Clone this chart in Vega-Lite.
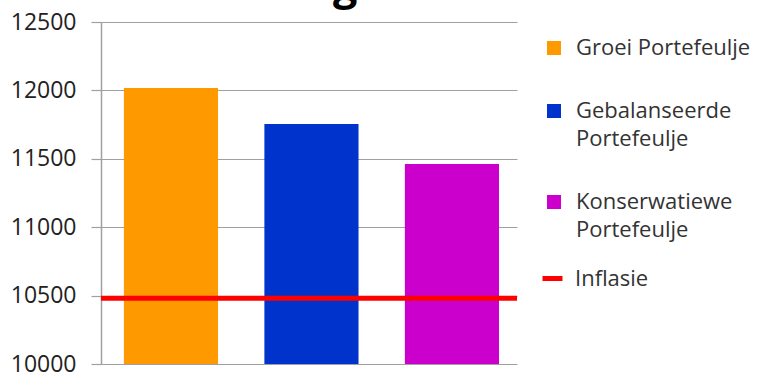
{
  "$schema": "https://vega.github.io/schema/vega-lite/v6.json",
  "width": 416,
  "height": 342,
  "autosize": {"type": "none"},
  "padding": {"left": 101, "top": 22, "right": 243, "bottom": 10},
  "title": {
    "text": "12 Maande groei",
    "anchor": "start",
    "frame": "group",
    "font": "Open Sans",
    "fontSize": 43,
    "fontWeight": "bold",
    "color": "#000000",
    "baseline": "alphabetic",
    "offset": 0,
    "dx": -13,
    "dy": 32
  },
  "config": {
    "view": {"stroke": null},
    "font": "Open Sans"
  },
  "datasets": {
    "portefeuljes": [
      {"Portefeulje": "Groei Portefeulje", "Waarde": 12017},
      {"Portefeulje": "Gebalanseerde Portefeulje", "Waarde": 11754},
      {"Portefeulje": "Konserwatiewe Portefeulje", "Waarde": 11462}
    ],
    "inflasie": [
      {"Reeks": "Inflasie", "Waarde": 10480}
    ]
  },
  "layer": [
    {
      "data": {"name": "portefeuljes"},
      "mark": {"type": "bar", "clip": true},
      "encoding": {
        "x": {
          "field": "Portefeulje",
          "type": "nominal",
          "sort": null,
          "axis": null,
          "scale": {"paddingInner": 0.33, "paddingOuter": 0.1455, "align": 0.56}
        },
        "y": {
          "field": "Waarde",
          "type": "quantitative",
          "scale": {"domain": [10000, 12500], "zero": false, "nice": false},
          "axis": {
            "title": null,
            "values": [10000, 10500, 11000, 11500, 12000, 12500],
            "format": "d",
            "grid": true,
            "gridColor": "#a0a0a0",
            "gridWidth": 1.2,
            "domainColor": "#a0a0a0",
            "domainWidth": 1.5,
            "tickColor": "#a0a0a0",
            "tickWidth": 1.2,
            "tickSize": 10,
            "labelPadding": 15,
            "labelFontSize": 23,
            "labelColor": "#222222",
            "labelFont": "Open Sans"
          }
        },
        "fill": {
          "field": "Portefeulje",
          "type": "nominal",
          "sort": null,
          "scale": {
            "domain": ["Groei Portefeulje", "Gebalanseerde Portefeulje", "Konserwatiewe Portefeulje"],
            "range": ["#ff9900", "#0033cc", "#cc00cc"]
          },
          "legend": {
            "orient": "none",
            "legendX": 442,
            "legendY": 15,
            "title": null,
            "padding": 0,
            "symbolType": "square",
            "symbolSize": 196,
            "symbolStrokeWidth": 0,
            "labelFontSize": 22,
            "labelFont": "Open Sans",
            "labelColor": "#333333",
            "labelOffset": 11,
            "labelLimit": 240,
            "rowPadding": 41,
            "labelExpr": "datum.label == 'Groei Portefeulje' ? datum.label : split(datum.label, ' ')",
            "encode": {"labels": {"update": {"lineHeight": {"value": 28}}}}
          }
        }
      }
    },
    {
      "data": {"name": "inflasie"},
      "mark": {"type": "rule", "strokeWidth": 5},
      "encoding": {
        "y": {"field": "Waarde", "type": "quantitative"},
        "stroke": {
          "field": "Reeks",
          "type": "nominal",
          "scale": {"range": ["#ff0000"]},
          "legend": {
            "orient": "none",
            "legendX": 439,
            "legendY": 244,
            "title": null,
            "padding": 0,
            "symbolType": "stroke",
            "symbolSize": 400,
            "symbolStrokeWidth": 5,
            "labelFontSize": 22,
            "labelFont": "Open Sans",
            "labelColor": "#333333",
            "labelOffset": 10
          }
        }
      }
    }
  ]
}
